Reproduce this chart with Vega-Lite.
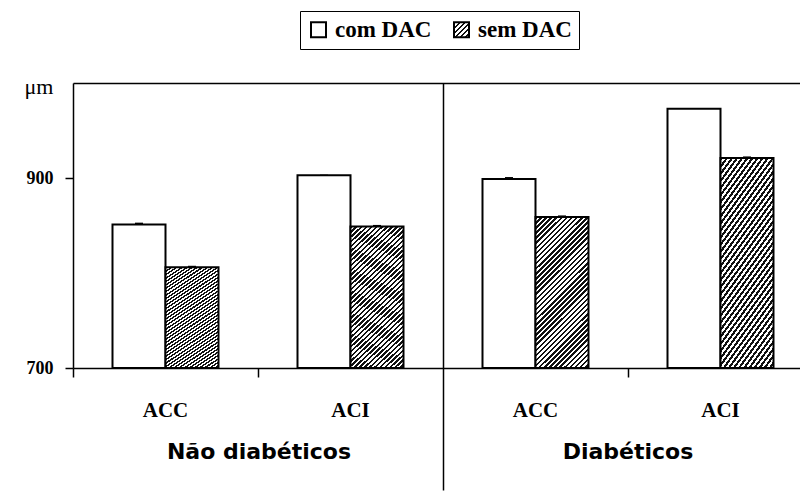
{
  "$schema": "https://vega.github.io/schema/vega-lite/v6.json",
  "width": 727,
  "height": 285,
  "autosize": {"type": "none"},
  "padding": {"left": 73, "top": 83, "right": 0, "bottom": 127},
  "background": "white",
  "config": {
    "view": {"stroke": null},
    "axis": {"domainColor": "black", "tickColor": "black", "domainWidth": 1.5, "tickWidth": 1.5, "grid": false}
  },
  "data": {
    "values": [
      {"grupo": "Não diabéticos", "local": "ACC", "serie": "com DAC", "valor": 851, "erro": 2},
      {"grupo": "Não diabéticos", "local": "ACC", "serie": "sem DAC", "valor": 806, "erro": 1.6},
      {"grupo": "Não diabéticos", "local": "ACI", "serie": "com DAC", "valor": 903, "erro": 0.5},
      {"grupo": "Não diabéticos", "local": "ACI", "serie": "sem DAC", "valor": 849, "erro": 1.6},
      {"grupo": "Diabéticos", "local": "ACC", "serie": "com DAC", "valor": 899, "erro": 2},
      {"grupo": "Diabéticos", "local": "ACC", "serie": "sem DAC", "valor": 859, "erro": 1.6},
      {"grupo": "Diabéticos", "local": "ACI", "serie": "com DAC", "valor": 973, "erro": 0.5},
      {"grupo": "Diabéticos", "local": "ACI", "serie": "sem DAC", "valor": 921, "erro": 1.7}
    ]
  },
  "transform": [
    {"calculate": "datum.grupo + '|' + datum.local", "as": "cat"},
    {"calculate": "datum.valor + datum.erro", "as": "sup"}
  ],
  "layer": [
    {
      "mark": {"type": "bar", "strokeWidth": 2},
      "encoding": {
        "x": {
          "field": "cat", "type": "nominal",
          "scale": {"domain": ["Não diabéticos|ACC", "Não diabéticos|ACI", "Diabéticos|ACC", "Diabéticos|ACI"], "range": [0, 740], "paddingInner": 0.427, "paddingOuter": 0.2135},
          "axis": {
            "orient": "bottom",
            "title": "Não diabéticos",
            "titleX": 185.5,
            "titleY": 90,
            "titleAnchor": null,
            "titleAlign": "center",
            "titleBaseline": "alphabetic",
            "titleFont": "DejaVu Sans",
            "titleFontWeight": "bold",
            "titleFontSize": 22,
            "titleColor": "black",
            "labels": false,
            "tickOffset": -92.5,
            "tickSize": {"condition": {"test": "datum.value === 'Diabéticos|ACC'", "value": 122}, "value": 9},
            "grid": true,
            "gridColor": "black",
            "gridWidth": 1.5,
            "gridOpacity": {"condition": {"test": "datum.value === 'Diabéticos|ACC'", "value": 1}, "value": 0}
          }
        },
        "xOffset": {"field": "serie", "type": "nominal", "scale": {"domain": ["com DAC", "sem DAC"], "paddingInner": 0, "paddingOuter": 0}},
        "y": {
          "field": "valor", "type": "quantitative",
          "scale": {"domain": [700, 1000], "nice": false, "zero": false},
          "axis": {
            "title": "μm",
            "titleAngle": 0,
            "titleX": -20,
            "titleY": 3,
            "titleAnchor": null,
            "titleAlign": "right",
            "titleBaseline": "middle",
            "titleFont": "Liberation Serif",
            "titleFontWeight": "normal",
            "titleFontSize": 22,
            "titleColor": "black",
            "values": [700, 900, 1000],
            "labelExpr": "datum.value == 1000 ? '' : datum.label",
            "tickSize": {"condition": {"test": "datum.value == 1000", "value": 0}, "value": 8},
            "labelPadding": 12,
            "labelFont": "Liberation Serif",
            "labelFontWeight": "bold",
            "labelFontSize": 18,
            "labelColor": "black",
            "grid": true,
            "gridColor": "black",
            "gridWidth": 1.5,
            "gridOpacity": {"condition": {"test": "datum.value == 1000", "value": 1}, "value": 0}
          }
        },
        "y2": {"datum": 700},
        "fill": {
          "condition": {"test": "datum.serie === 'sem DAC'", "value": {"gradient": "linear", "x1": 0, "y1": 0, "x2": 0.421, "y2": 1.203, "stops": [
              {"offset":0,"color":"#111"},{"offset":0.0125,"color":"#111"},{"offset":0.0125,"color":"#fff"},{"offset":0.025,"color":"#fff"},
              {"offset":0.025,"color":"#111"},{"offset":0.0375,"color":"#111"},{"offset":0.0375,"color":"#fff"},{"offset":0.05,"color":"#fff"},
              {"offset":0.05,"color":"#111"},{"offset":0.0625,"color":"#111"},{"offset":0.0625,"color":"#fff"},{"offset":0.075,"color":"#fff"},
              {"offset":0.075,"color":"#111"},{"offset":0.0875,"color":"#111"},{"offset":0.0875,"color":"#fff"},{"offset":0.1,"color":"#fff"},
              {"offset":0.1,"color":"#111"},{"offset":0.1125,"color":"#111"},{"offset":0.1125,"color":"#fff"},{"offset":0.125,"color":"#fff"},
              {"offset":0.125,"color":"#111"},{"offset":0.1375,"color":"#111"},{"offset":0.1375,"color":"#fff"},{"offset":0.15,"color":"#fff"},
              {"offset":0.15,"color":"#111"},{"offset":0.1625,"color":"#111"},{"offset":0.1625,"color":"#fff"},{"offset":0.175,"color":"#fff"},
              {"offset":0.175,"color":"#111"},{"offset":0.1875,"color":"#111"},{"offset":0.1875,"color":"#fff"},{"offset":0.2,"color":"#fff"},
              {"offset":0.2,"color":"#111"},{"offset":0.2125,"color":"#111"},{"offset":0.2125,"color":"#fff"},{"offset":0.225,"color":"#fff"},
              {"offset":0.225,"color":"#111"},{"offset":0.2375,"color":"#111"},{"offset":0.2375,"color":"#fff"},{"offset":0.25,"color":"#fff"},
              {"offset":0.25,"color":"#111"},{"offset":0.2625,"color":"#111"},{"offset":0.2625,"color":"#fff"},{"offset":0.275,"color":"#fff"},
              {"offset":0.275,"color":"#111"},{"offset":0.2875,"color":"#111"},{"offset":0.2875,"color":"#fff"},{"offset":0.3,"color":"#fff"},
              {"offset":0.3,"color":"#111"},{"offset":0.3125,"color":"#111"},{"offset":0.3125,"color":"#fff"},{"offset":0.325,"color":"#fff"},
              {"offset":0.325,"color":"#111"},{"offset":0.3375,"color":"#111"},{"offset":0.3375,"color":"#fff"},{"offset":0.35,"color":"#fff"},
              {"offset":0.35,"color":"#111"},{"offset":0.3625,"color":"#111"},{"offset":0.3625,"color":"#fff"},{"offset":0.375,"color":"#fff"},
              {"offset":0.375,"color":"#111"},{"offset":0.3875,"color":"#111"},{"offset":0.3875,"color":"#fff"},{"offset":0.4,"color":"#fff"},
              {"offset":0.4,"color":"#111"},{"offset":0.4125,"color":"#111"},{"offset":0.4125,"color":"#fff"},{"offset":0.425,"color":"#fff"},
              {"offset":0.425,"color":"#111"},{"offset":0.4375,"color":"#111"},{"offset":0.4375,"color":"#fff"},{"offset":0.45,"color":"#fff"},
              {"offset":0.45,"color":"#111"},{"offset":0.4625,"color":"#111"},{"offset":0.4625,"color":"#fff"},{"offset":0.475,"color":"#fff"},
              {"offset":0.475,"color":"#111"},{"offset":0.4875,"color":"#111"},{"offset":0.4875,"color":"#fff"},{"offset":0.5,"color":"#fff"},
              {"offset":0.5,"color":"#111"},{"offset":0.5125,"color":"#111"},{"offset":0.5125,"color":"#fff"},{"offset":0.525,"color":"#fff"},
              {"offset":0.525,"color":"#111"},{"offset":0.5375,"color":"#111"},{"offset":0.5375,"color":"#fff"},{"offset":0.55,"color":"#fff"},
              {"offset":0.55,"color":"#111"},{"offset":0.5625,"color":"#111"},{"offset":0.5625,"color":"#fff"},{"offset":0.575,"color":"#fff"},
              {"offset":0.575,"color":"#111"},{"offset":0.5875,"color":"#111"},{"offset":0.5875,"color":"#fff"},{"offset":0.6,"color":"#fff"},
              {"offset":0.6,"color":"#111"},{"offset":0.6125,"color":"#111"},{"offset":0.6125,"color":"#fff"},{"offset":0.625,"color":"#fff"},
              {"offset":0.625,"color":"#111"},{"offset":0.6375,"color":"#111"},{"offset":0.6375,"color":"#fff"},{"offset":0.65,"color":"#fff"},
              {"offset":0.65,"color":"#111"},{"offset":0.6625,"color":"#111"},{"offset":0.6625,"color":"#fff"},{"offset":0.675,"color":"#fff"},
              {"offset":0.675,"color":"#111"},{"offset":0.6875,"color":"#111"},{"offset":0.6875,"color":"#fff"},{"offset":0.7,"color":"#fff"},
              {"offset":0.7,"color":"#111"},{"offset":0.7125,"color":"#111"},{"offset":0.7125,"color":"#fff"},{"offset":0.725,"color":"#fff"},
              {"offset":0.725,"color":"#111"},{"offset":0.7375,"color":"#111"},{"offset":0.7375,"color":"#fff"},{"offset":0.75,"color":"#fff"},
              {"offset":0.75,"color":"#111"},{"offset":0.7625,"color":"#111"},{"offset":0.7625,"color":"#fff"},{"offset":0.775,"color":"#fff"},
              {"offset":0.775,"color":"#111"},{"offset":0.7875,"color":"#111"},{"offset":0.7875,"color":"#fff"},{"offset":0.8,"color":"#fff"},
              {"offset":0.8,"color":"#111"},{"offset":0.8125,"color":"#111"},{"offset":0.8125,"color":"#fff"},{"offset":0.825,"color":"#fff"},
              {"offset":0.825,"color":"#111"},{"offset":0.8375,"color":"#111"},{"offset":0.8375,"color":"#fff"},{"offset":0.85,"color":"#fff"},
              {"offset":0.85,"color":"#111"},{"offset":0.8625,"color":"#111"},{"offset":0.8625,"color":"#fff"},{"offset":0.875,"color":"#fff"},
              {"offset":0.875,"color":"#111"},{"offset":0.8875,"color":"#111"},{"offset":0.8875,"color":"#fff"},{"offset":0.9,"color":"#fff"},
              {"offset":0.9,"color":"#111"},{"offset":0.9125,"color":"#111"},{"offset":0.9125,"color":"#fff"},{"offset":0.925,"color":"#fff"},
              {"offset":0.925,"color":"#111"},{"offset":0.9375,"color":"#111"},{"offset":0.9375,"color":"#fff"},{"offset":0.95,"color":"#fff"},
              {"offset":0.95,"color":"#111"},{"offset":0.9625,"color":"#111"},{"offset":0.9625,"color":"#fff"},{"offset":0.975,"color":"#fff"},
              {"offset":0.975,"color":"#111"},{"offset":0.9875,"color":"#111"},{"offset":0.9875,"color":"#fff"},{"offset":1,"color":"#fff"}
            ]}},
          "value": "white"
        },
        "stroke": {
          "field": "serie", "type": "nominal",
          "scale": {"domain": ["com DAC", "sem DAC"], "range": ["black", "black"]},
          "legend": {
            "title": null,
            "orient": "none",
            "legendX": 227,
            "legendY": -72,
            "direction": "horizontal",
            "symbolType": "square",
            "symbolSize": 225,
            "symbolStrokeColor": "black",
            "symbolStrokeWidth": 2,
            "labelFont": "Liberation Serif",
            "labelFontWeight": "bold",
            "labelFontSize": 23,
            "labelColor": "black",
            "labelOffset": 5,
            "columnPadding": 18,
            "padding": 7,
            "strokeColor": "black",
            "fillColor": "white",
            "encoding": {
              "symbols": {
                "fill": {
                  "condition": {"test": "datum.value === 'sem DAC'", "value": {"gradient": "linear", "x1": 0, "y1": 0, "x2": 1, "y2": 1, "stops": [
                    {"offset":0,"color":"#111"},{"offset":0.0833,"color":"#111"},{"offset":0.0833,"color":"#fff"},{"offset":0.1667,"color":"#fff"},
                    {"offset":0.1667,"color":"#111"},{"offset":0.25,"color":"#111"},{"offset":0.25,"color":"#fff"},{"offset":0.3333,"color":"#fff"},
                    {"offset":0.3333,"color":"#111"},{"offset":0.4167,"color":"#111"},{"offset":0.4167,"color":"#fff"},{"offset":0.5,"color":"#fff"},
                    {"offset":0.5,"color":"#111"},{"offset":0.5833,"color":"#111"},{"offset":0.5833,"color":"#fff"},{"offset":0.6667,"color":"#fff"},
                    {"offset":0.6667,"color":"#111"},{"offset":0.75,"color":"#111"},{"offset":0.75,"color":"#fff"},{"offset":0.8333,"color":"#fff"},
                    {"offset":0.8333,"color":"#111"},{"offset":0.9167,"color":"#111"},{"offset":0.9167,"color":"#fff"},{"offset":1,"color":"#fff"}
                  ]}},
                  "value": "white"
                },
                "opacity": {"value": 1},
                "fillOpacity": {"value": 1}
              }
            }
          }
        }
      }
    },
    {
      "mark": {"type": "rule", "strokeWidth": 8, "color": "black", "strokeCap": "butt"},
      "encoding": {
        "x": {
          "field": "cat", "type": "nominal",
          "axis": {
            "orient": "bottom",
            "title": "Diabéticos",
            "titleX": 554.5,
            "titleY": 90,
            "titleAnchor": null,
            "titleAlign": "center",
            "titleBaseline": "alphabetic",
            "titleFont": "DejaVu Sans",
            "titleFontWeight": "bold",
            "titleFontSize": 22,
            "titleColor": "black",
            "domain": false,
            "ticks": false,
            "tickSize": 0,
            "grid": false,
            "labelExpr": "split(datum.value, '|')[1]",
            "labelPadding": 31,
            "labelAngle": 0,
            "labelOverlap": false,
            "labelFont": "Liberation Serif",
            "labelFontWeight": "bold",
            "labelFontSize": 21,
            "labelColor": "black"
          }
        },
        "xOffset": {"field": "serie", "type": "nominal"},
        "y": {"field": "valor", "type": "quantitative", "axis": null},
        "y2": {"field": "sup"}
      }
    }
  ],
  "resolve": {"axis": {"x": "independent", "y": "independent"}}
}
